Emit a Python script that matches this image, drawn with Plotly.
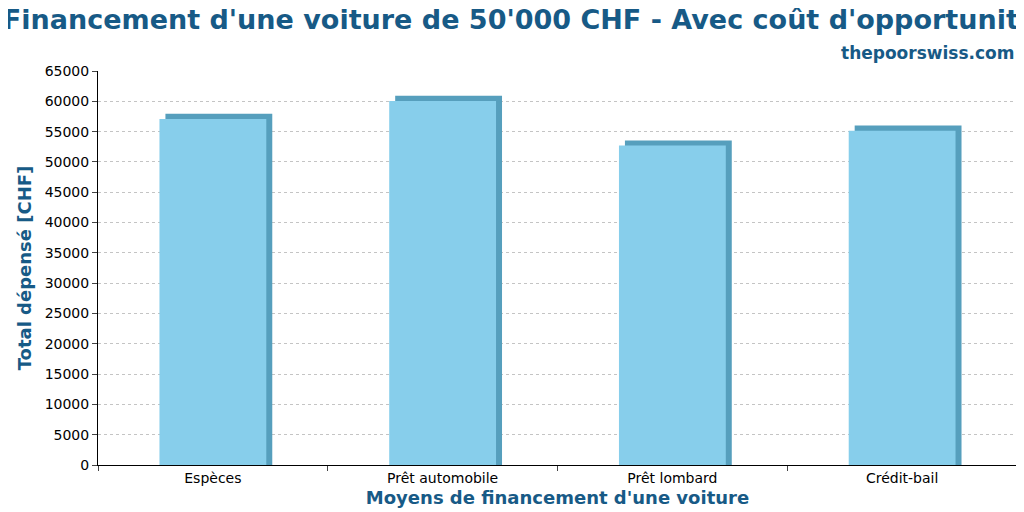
import plotly.graph_objects as go

categories = ["Espèces", "Prêt automobile", "Prêt lombard", "Crédit-bail"]
values = [57080, 60050, 52690, 55160]
depth = 850

navy = "#175a86"
fig = go.Figure()
fig.add_trace(go.Bar(x=categories, y=[v + depth for v in values], width=0.465, offset=-0.2325 + 0.026,
                     marker=dict(color="#569fbd", line=dict(width=0)), hoverinfo="skip"))
fig.add_trace(go.Bar(x=categories, y=values, width=0.465, offset=-0.2325,
                     marker=dict(color="#87ceeb", line=dict(width=0))))
fig.update_layout(
    width=1024, height=512, barmode="overlay", showlegend=False,
    paper_bgcolor="white", plot_bgcolor="white",
    margin=dict(l=90, r=15, t=63, b=55, autoexpand=False),
    font=dict(family="DejaVu Sans", size=14, color="black"),
    title=dict(text="Financement d'une voiture de 50'000 CHF - Avec coût d'opportunité",
               x=0.5, xanchor="center", y=0.995, yanchor="top", automargin=False,
               font=dict(size=27, color=navy, family="DejaVu Sans", weight="bold")),
    annotations=[dict(text="<b>thepoorswiss.com</b>", xref="paper", yref="paper", x=1, y=1.015,
                      xanchor="right", yanchor="bottom", showarrow=False,
                      font=dict(size=17, color=navy))],
    xaxis=dict(tickson="boundaries", ticks="outside", ticklen=5, showline=True, linecolor="black",
               automargin=False,
               title=dict(text="<b>Moyens de financement d'une voiture</b>", font=dict(size=18, color=navy), standoff=6)),
    yaxis=dict(range=[0, 65000], dtick=5000, tickformat="d", ticks="outside", ticklen=5, showline=True, mirror=True,
               linecolor="black", showgrid=True, gridcolor="#c4c4c4", griddash="dot", zeroline=False,
               automargin=False,
               title=dict(text="<b>Total dépensé [CHF]</b>", font=dict(size=18, color=navy), standoff=8)),
)
fig.write_html("out.html")
